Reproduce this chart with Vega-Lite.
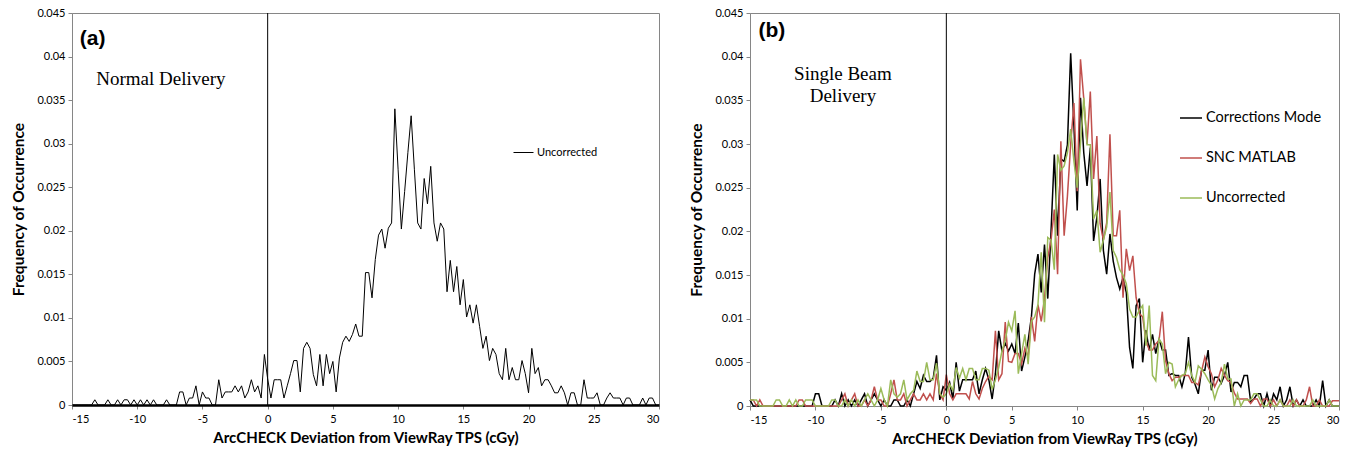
{
  "$schema": "https://vega.github.io/schema/vega-lite/v6.json",
  "background": "white",
  "padding": {"left": 11, "top": 6, "right": 5, "bottom": 5},
  "config": {
    "font": "Lato",
    "view": {"stroke": "#868686", "strokeWidth": 1},
    "axis": {"labelFont": "Lato", "labelFontSize": 11, "labelColor": "#000", "titleFont": "Lato", "titleFontSize": 15, "titleFontWeight": "bold", "titleColor": "#000", "domainColor": "#868686", "tickColor": "#868686", "tickSize": 4, "grid": false},
    "axisY": {"titleFontSize": 15.5},
    "legend": {"symbolType": "stroke", "symbolStrokeWidth": 1.2, "labelFont": "Lato", "labelColor": "#000", "title": null, "orient": "none", "padding": 0, "labelOffset": 3},
    "concat": {"spacing": 27}
  },
  "datasets": {
    "hist": [
      {"x":-15,"a":0,"c":0.0007,"s":0.0007,"u":0.0007},
      {"x":-14.75,"a":0,"c":0,"s":0.0007,"u":0.0007},
      {"x":-14.5,"a":0,"c":0,"s":0,"u":0.0007},
      {"x":-14.25,"a":0,"c":0,"s":0.0007,"u":0},
      {"x":-14,"a":0,"c":0,"s":0,"u":0},
      {"x":-13.75,"a":0,"c":0,"s":0,"u":0},
      {"x":-13.5,"a":0,"c":0,"s":0,"u":0},
      {"x":-13.25,"a":0.0006,"c":0,"s":0,"u":0},
      {"x":-13,"a":0,"c":0,"s":0,"u":0.0007},
      {"x":-12.75,"a":0,"c":0,"s":0,"u":0.0007},
      {"x":-12.5,"a":0,"c":0,"s":0,"u":0},
      {"x":-12.25,"a":0.0006,"c":0,"s":0,"u":0},
      {"x":-12,"a":0,"c":0,"s":0,"u":0.0007},
      {"x":-11.75,"a":0,"c":0,"s":0,"u":0},
      {"x":-11.5,"a":0.0006,"c":0,"s":0,"u":0.0007},
      {"x":-11.25,"a":0,"c":0,"s":0.0007,"u":0},
      {"x":-11,"a":0.0006,"c":0,"s":0.0007,"u":0},
      {"x":-10.75,"a":0.0006,"c":0,"s":0,"u":0.0007},
      {"x":-10.5,"a":0,"c":0,"s":0,"u":0.0007},
      {"x":-10.25,"a":0.0006,"c":0,"s":0,"u":0.0007},
      {"x":-10,"a":0,"c":0.0014,"s":0,"u":0},
      {"x":-9.75,"a":0.0006,"c":0.0014,"s":0,"u":0},
      {"x":-9.5,"a":0,"c":0,"s":0,"u":0},
      {"x":-9.25,"a":0.0006,"c":0,"s":0,"u":0},
      {"x":-9,"a":0,"c":0,"s":0,"u":0},
      {"x":-8.75,"a":0.0006,"c":0,"s":0,"u":0.0007},
      {"x":-8.5,"a":0,"c":0.0007,"s":0,"u":0.0007},
      {"x":-8.25,"a":0,"c":0,"s":0,"u":0},
      {"x":-8,"a":0,"c":0.0014,"s":0.0007,"u":0},
      {"x":-7.75,"a":0.0006,"c":0,"s":0.0014,"u":0.0007},
      {"x":-7.5,"a":0,"c":0.0007,"s":0,"u":0},
      {"x":-7.25,"a":0,"c":0,"s":0.0007,"u":0.0007},
      {"x":-7,"a":0,"c":0.0007,"s":0.0014,"u":0},
      {"x":-6.75,"a":0.0015,"c":0,"s":0,"u":0.0007},
      {"x":-6.5,"a":0.0015,"c":0.0007,"s":0,"u":0},
      {"x":-6.25,"a":0,"c":0.0014,"s":0.0007,"u":0.0007},
      {"x":-6,"a":0.0008,"c":0,"s":0,"u":0.0014},
      {"x":-5.75,"a":0.0008,"c":0.0007,"s":0.0007,"u":0.0007},
      {"x":-5.5,"a":0.0022,"c":0.0014,"s":0.0022,"u":0},
      {"x":-5.25,"a":0,"c":0.0007,"s":0.0007,"u":0.0007},
      {"x":-5,"a":0.0015,"c":0,"s":0.0007,"u":0.002},
      {"x":-4.75,"a":0.0008,"c":0.0007,"s":0,"u":0.0007},
      {"x":-4.5,"a":0.0008,"c":0,"s":0,"u":0},
      {"x":-4.25,"a":0,"c":0,"s":0.0014,"u":0.003},
      {"x":-4,"a":0,"c":0.0007,"s":0.003,"u":0.0014},
      {"x":-3.75,"a":0.0029,"c":0.0007,"s":0.0007,"u":0.001},
      {"x":-3.5,"a":0.0008,"c":0,"s":0.0007,"u":0.0014},
      {"x":-3.25,"a":0.0015,"c":0,"s":0.0014,"u":0.003},
      {"x":-3,"a":0.0015,"c":0.0007,"s":0,"u":0.0007},
      {"x":-2.75,"a":0.0015,"c":0,"s":0.0007,"u":0.0014},
      {"x":-2.5,"a":0.0022,"c":0.0014,"s":0.0014,"u":0.0018},
      {"x":-2.25,"a":0.0015,"c":0.0028,"s":0.0007,"u":0.004},
      {"x":-2,"a":0.0022,"c":0.002,"s":0.0007,"u":0.0028},
      {"x":-1.75,"a":0.0008,"c":0.0035,"s":0.0014,"u":0.0028},
      {"x":-1.5,"a":0.0015,"c":0.0028,"s":0.0007,"u":0.005},
      {"x":-1.25,"a":0.0029,"c":0.0028,"s":0.0014,"u":0.003},
      {"x":-1,"a":0.0015,"c":0.0032,"s":0.0007,"u":0.003},
      {"x":-0.75,"a":0.0022,"c":0.0058,"s":0.0037,"u":0.0049},
      {"x":-0.5,"a":0.0008,"c":0.0007,"s":0.0014,"u":0.0014},
      {"x":-0.25,"a":0.0058,"c":0.0022,"s":0.0007,"u":0.001},
      {"x":0,"a":0.003,"c":0.0018,"s":0.0036,"u":0.0014},
      {"x":0.25,"a":0.0008,"c":0.0027,"s":0.0014,"u":0.0025},
      {"x":0.5,"a":0.0029,"c":0.0008,"s":0.0007,"u":0.0018},
      {"x":0.75,"a":0.0029,"c":0.005,"s":0.0014,"u":0.0044},
      {"x":1,"a":0.0029,"c":0.0017,"s":0.0014,"u":0.0032},
      {"x":1.25,"a":0.0008,"c":0.003,"s":0.0014,"u":0.0043},
      {"x":1.5,"a":0.0022,"c":0.003,"s":0.0014,"u":0.003},
      {"x":1.75,"a":0.0036,"c":0.003,"s":0.0008,"u":0.0043},
      {"x":2,"a":0.0051,"c":0.003,"s":0.0028,"u":0.0043},
      {"x":2.25,"a":0.0051,"c":0.004,"s":0.0014,"u":0.003},
      {"x":2.5,"a":0.0015,"c":0.0014,"s":0.0008,"u":0.003},
      {"x":2.75,"a":0.0065,"c":0.003,"s":0.002,"u":0.0043},
      {"x":3,"a":0.0072,"c":0.0043,"s":0.0028,"u":0.0043},
      {"x":3.25,"a":0.0065,"c":0.003,"s":0.0034,"u":0.0041},
      {"x":3.5,"a":0.0035,"c":0.0008,"s":0.003,"u":0.0019},
      {"x":3.75,"a":0.0022,"c":0.0037,"s":0.0086,"u":0.003},
      {"x":4,"a":0.0058,"c":0.0086,"s":0.003,"u":0.0044},
      {"x":4.25,"a":0.0022,"c":0.0063,"s":0.0037,"u":0.0063},
      {"x":4.5,"a":0.0058,"c":0.0072,"s":0.0096,"u":0.0075},
      {"x":4.75,"a":0.0036,"c":0.0063,"s":0.0051,"u":0.0096},
      {"x":5,"a":0.005,"c":0.0071,"s":0.005,"u":0.0086},
      {"x":5.25,"a":0.0015,"c":0.006,"s":0.006,"u":0.0109},
      {"x":5.5,"a":0.0054,"c":0.0095,"s":0.006,"u":0.0037},
      {"x":5.75,"a":0.0072,"c":0.004,"s":0.0048,"u":0.006},
      {"x":6,"a":0.0079,"c":0.0056,"s":0.0066,"u":0.0082},
      {"x":6.25,"a":0.0073,"c":0.0075,"s":0.0056,"u":0.0048},
      {"x":6.5,"a":0.0081,"c":0.0102,"s":0.0102,"u":0.0097},
      {"x":6.75,"a":0.0093,"c":0.0151,"s":0.0074,"u":0.0102},
      {"x":7,"a":0.0079,"c":0.0174,"s":0.0116,"u":0.0116},
      {"x":7.25,"a":0.0079,"c":0.013,"s":0.0097,"u":0.0176},
      {"x":7.5,"a":0.0152,"c":0.0185,"s":0.0123,"u":0.0096},
      {"x":7.75,"a":0.0152,"c":0.0123,"s":0.017,"u":0.0193},
      {"x":8,"a":0.0123,"c":0.02,"s":0.019,"u":0.019},
      {"x":8.25,"a":0.0167,"c":0.0288,"s":0.0225,"u":0.0156},
      {"x":8.5,"a":0.0195,"c":0.0195,"s":0.0151,"u":0.0288},
      {"x":8.75,"a":0.0202,"c":0.0283,"s":0.0303,"u":0.027},
      {"x":9,"a":0.018,"c":0.028,"s":0.0195,"u":0.0275},
      {"x":9.25,"a":0.0203,"c":0.0299,"s":0.024,"u":0.029},
      {"x":9.5,"a":0.0209,"c":0.0404,"s":0.03,"u":0.0317},
      {"x":9.75,"a":0.034,"c":0.032,"s":0.0347,"u":0.028},
      {"x":10,"a":0.027,"c":0.0224,"s":0.0246,"u":0.025},
      {"x":10.25,"a":0.0202,"c":0.0353,"s":0.0397,"u":0.03},
      {"x":10.5,"a":0.0245,"c":0.029,"s":0.0352,"u":0.0353},
      {"x":10.75,"a":0.029,"c":0.0252,"s":0.03,"u":0.0299},
      {"x":11,"a":0.0332,"c":0.0296,"s":0.036,"u":0.0299},
      {"x":11.25,"a":0.027,"c":0.0189,"s":0.026,"u":0.0214},
      {"x":11.5,"a":0.0209,"c":0.0216,"s":0.0309,"u":0.0224},
      {"x":11.75,"a":0.0202,"c":0.026,"s":0.0209,"u":0.0176},
      {"x":12,"a":0.026,"c":0.0178,"s":0.019,"u":0.019},
      {"x":12.25,"a":0.0231,"c":0.0151,"s":0.021,"u":0.0205},
      {"x":12.5,"a":0.0274,"c":0.0197,"s":0.0311,"u":0.0245},
      {"x":12.75,"a":0.0209,"c":0.0166,"s":0.0195,"u":0.0178},
      {"x":13,"a":0.0188,"c":0.0147,"s":0.0195,"u":0.017},
      {"x":13.25,"a":0.0209,"c":0.0134,"s":0.0224,"u":0.0156},
      {"x":13.5,"a":0.0202,"c":0.0147,"s":0.0124,"u":0.015},
      {"x":13.75,"a":0.013,"c":0.013,"s":0.018,"u":0.014},
      {"x":14,"a":0.0166,"c":0.0067,"s":0.0155,"u":0.0111},
      {"x":14.25,"a":0.013,"c":0.0043,"s":0.0172,"u":0.0102},
      {"x":14.5,"a":0.0159,"c":0.0115,"s":0.0124,"u":0.0102},
      {"x":14.75,"a":0.0115,"c":0.0123,"s":0.0106,"u":0.011},
      {"x":15,"a":0.0144,"c":0.005,"s":0.0102,"u":0.0115},
      {"x":15.25,"a":0.0101,"c":0.0087,"s":0.0075,"u":0.0069},
      {"x":15.5,"a":0.0115,"c":0.0064,"s":0.0064,"u":0.0115},
      {"x":15.75,"a":0.0094,"c":0.0082,"s":0.0064,"u":0.0035},
      {"x":16,"a":0.0115,"c":0.006,"s":0.0071,"u":0.0029},
      {"x":16.25,"a":0.009,"c":0.0077,"s":0.0075,"u":0.0077},
      {"x":16.5,"a":0.0065,"c":0.0064,"s":0.0108,"u":0.0071},
      {"x":16.75,"a":0.0079,"c":0.0064,"s":0.0052,"u":0.0037},
      {"x":17,"a":0.0051,"c":0.0035,"s":0.0037,"u":0.005},
      {"x":17.25,"a":0.0065,"c":0.0037,"s":0.0029,"u":0.0048},
      {"x":17.5,"a":0.0058,"c":0.0035,"s":0.0033,"u":0.0022},
      {"x":17.75,"a":0.0036,"c":0.0035,"s":0.0033,"u":0.003},
      {"x":18,"a":0.0029,"c":0.0022,"s":0.0035,"u":0.0035},
      {"x":18.25,"a":0.0065,"c":0.0037,"s":0.0035,"u":0.0037},
      {"x":18.5,"a":0.0029,"c":0.0079,"s":0.0035,"u":0.005},
      {"x":18.75,"a":0.0043,"c":0.0033,"s":0.0027,"u":0.0035},
      {"x":19,"a":0.0029,"c":0.0025,"s":0.0027,"u":0.0027},
      {"x":19.25,"a":0.0029,"c":0.0014,"s":0.0024,"u":0.0046},
      {"x":19.5,"a":0.0051,"c":0.0041,"s":0.004,"u":0.0042},
      {"x":19.75,"a":0.0036,"c":0.0041,"s":0.0056,"u":0.0037},
      {"x":20,"a":0.0014,"c":0.0064,"s":0.0045,"u":0.003},
      {"x":20.25,"a":0.0065,"c":0.0018,"s":0.0037,"u":0.0024},
      {"x":20.5,"a":0.0036,"c":0.0033,"s":0.0022,"u":0.0008},
      {"x":20.75,"a":0.0043,"c":0.0033,"s":0.003,"u":0.002},
      {"x":21,"a":0.0022,"c":0.0026,"s":0.0043,"u":0.0027},
      {"x":21.25,"a":0.0029,"c":0.0035,"s":0.0035,"u":0.0048},
      {"x":21.5,"a":0.0029,"c":0.005,"s":0.0029,"u":0.0031},
      {"x":21.75,"a":0.0022,"c":0.0016,"s":0.0027,"u":0.0031},
      {"x":22,"a":0.0014,"c":0.0027,"s":0.0015,"u":0},
      {"x":22.25,"a":0.0014,"c":0.0027,"s":0.0008,"u":0.0014},
      {"x":22.5,"a":0.0022,"c":0.0022,"s":0.0008,"u":0},
      {"x":22.75,"a":0.0014,"c":0.0035,"s":0.0008,"u":0.0007},
      {"x":23,"a":0,"c":0.0035,"s":0.0008,"u":0.0007},
      {"x":23.25,"a":0.0014,"c":0.0005,"s":0.0003,"u":0.0007},
      {"x":23.5,"a":0.0014,"c":0.0008,"s":0.0008,"u":0.0014},
      {"x":23.75,"a":0,"c":0.0014,"s":0.0008,"u":0.0014},
      {"x":24,"a":0,"c":0.0014,"s":0,"u":0.0007},
      {"x":24.25,"a":0.0029,"c":0,"s":0.0008,"u":0},
      {"x":24.5,"a":0.0008,"c":0.0014,"s":0.0008,"u":0},
      {"x":24.75,"a":0.0008,"c":0,"s":0,"u":0.0007},
      {"x":25,"a":0.0008,"c":0.0014,"s":0.0007,"u":0},
      {"x":25.25,"a":0.0014,"c":0.0007,"s":0,"u":0},
      {"x":25.5,"a":0,"c":0.0022,"s":0.0007,"u":0.0007},
      {"x":25.75,"a":0,"c":0,"s":0,"u":0},
      {"x":26,"a":0.0008,"c":0.0007,"s":0,"u":0},
      {"x":26.25,"a":0.0014,"c":0.0022,"s":0.0007,"u":0},
      {"x":26.5,"a":0.0008,"c":0,"s":0,"u":0.0007},
      {"x":26.75,"a":0.0008,"c":0.0007,"s":0.0007,"u":0},
      {"x":27,"a":0.0008,"c":0,"s":0,"u":0},
      {"x":27.25,"a":0,"c":0.0007,"s":0,"u":0},
      {"x":27.5,"a":0.0008,"c":0,"s":0.0007,"u":0},
      {"x":27.75,"a":0.0008,"c":0,"s":0.0022,"u":0},
      {"x":28,"a":0,"c":0,"s":0,"u":0.0007},
      {"x":28.25,"a":0,"c":0.0007,"s":0,"u":0},
      {"x":28.5,"a":0,"c":0,"s":0.0007,"u":0},
      {"x":28.75,"a":0.0008,"c":0.0029,"s":0,"u":0},
      {"x":29,"a":0,"c":0,"s":0,"u":0},
      {"x":29.25,"a":0.0008,"c":0.0007,"s":0,"u":0.0007},
      {"x":29.5,"a":0.0008,"c":0,"s":0.0006,"u":0},
      {"x":29.75,"a":0,"c":0,"s":0.0006,"u":0},
      {"x":30,"a":0,"c":0,"s":0.0006,"u":0}
    ]
  },
  "hconcat": [
    {
      "width": 587,
      "height": 392,
      "layer": [
        {
          "data": {"name": "hist"},
          "mark": {"type": "line", "color": "black", "strokeWidth": 1},
          "encoding": {
            "x": {"field": "x", "type": "quantitative", "title": "ArcCHECK Deviation from ViewRay TPS (cGy)", "scale": {"domain": [-15, 30], "nice": false},
                  "axis": {"values": [-15,-10,-5,0,5,10,15,20,25,30], "labelExpr": "'' + datum.value", "domainColor": "#000", "domainWidth": 2.5, "labelPadding": 4, "titlePadding": 6}},
            "y": {"field": "a", "type": "quantitative", "title": "Frequency of Occurrence", "scale": {"domain": [0, 0.045], "nice": false},
                  "axis": {"values": [0,0.005,0.01,0.015,0.02,0.025,0.03,0.035,0.04,0.045], "format": ".3~f", "labelPadding": 3, "titlePadding": 10}},
            "color": {"datum": "Uncorrected", "type": "nominal", "scale": {"range": ["#000000"]},
                      "legend": {"legendX": 441, "legendY": 129, "symbolSize": 400, "labelFontSize": 11, "symbolStrokeWidth": 1}}
          }
        },
        {
          "data": {"values": [{"px": 0, "py": 0}, {"px": 0, "py": 0.045}]},
          "mark": {"type": "line", "color": "black", "strokeWidth": 1},
          "encoding": {"x": {"field": "px", "type": "quantitative", "title": "ArcCHECK Deviation from ViewRay TPS (cGy)"}, "y": {"field": "py", "type": "quantitative", "title": "Frequency of Occurrence"}}
        },
        {
          "data": {"values": [{"px": -14.4, "py": 0.042, "t": "(a)"}]},
          "mark": {"type": "text", "align": "left", "baseline": "middle", "font": "Liberation Sans", "fontWeight": "bold", "fontSize": 21, "color": "black"},
          "encoding": {"x": {"field": "px", "type": "quantitative", "title": "ArcCHECK Deviation from ViewRay TPS (cGy)"}, "y": {"field": "py", "type": "quantitative", "title": "Frequency of Occurrence"}, "text": {"field": "t"}}
        },
        {
          "data": {"values": [{"px": -13.14, "py": 0.0374, "t": "Normal Delivery"}]},
          "mark": {"type": "text", "align": "left", "baseline": "middle", "font": "Liberation Serif", "fontSize": 19, "color": "black"},
          "encoding": {"x": {"field": "px", "type": "quantitative", "title": "ArcCHECK Deviation from ViewRay TPS (cGy)"}, "y": {"field": "py", "type": "quantitative", "title": "Frequency of Occurrence"}, "text": {"field": "t"}}
        }
      ]
    },
    {
      "width": 589,
      "height": 393,
      "layer": [
        {
          "data": {"name": "hist"},
          "transform": [{"fold": ["c", "s", "u"], "as": ["series", "f"]}],
          "mark": {"type": "line", "strokeWidth": 1.5},
          "encoding": {
            "x": {"field": "x", "type": "quantitative", "title": "ArcCHECK Deviation from ViewRay TPS (cGy)", "scale": {"domain": [-15, 30], "nice": false},
                  "axis": {"values": [-15,-10,-5,0,5,10,15,20,25,30], "labelExpr": "'' + datum.value", "labelPadding": 4, "titlePadding": 6}},
            "y": {"field": "f", "type": "quantitative", "title": "Frequency of Occurrence", "scale": {"domain": [0, 0.045], "nice": false},
                  "axis": {"values": [0,0.005,0.01,0.015,0.02,0.025,0.03,0.035,0.04,0.045], "format": ".3~f", "labelPadding": 3, "titlePadding": 10}},
            "color": {"field": "series", "type": "nominal", "scale": {"domain": ["c", "s", "u"], "range": ["#000000", "#c0504d", "#9bbb59"]},
                      "legend": {"legendX": 429, "legendY": 93, "symbolSize": 484, "labelFontSize": 14.5, "rowPadding": 21, "symbolStrokeWidth": 1.5,
                                 "labelExpr": "datum.label == 'c' ? 'Corrections Mode' : datum.label == 's' ? 'SNC MATLAB' : 'Uncorrected'"}}
          }
        },
        {
          "data": {"values": [{"px": 0, "py": 0}, {"px": 0, "py": 0.045}]},
          "mark": {"type": "line", "color": "black", "strokeWidth": 1},
          "encoding": {"x": {"field": "px", "type": "quantitative", "title": "ArcCHECK Deviation from ViewRay TPS (cGy)"}, "y": {"field": "py", "type": "quantitative", "title": "Frequency of Occurrence"}}
        },
        {
          "data": {"values": [{"px": -14.35, "py": 0.0429, "t": "(b)"}]},
          "mark": {"type": "text", "align": "left", "baseline": "middle", "font": "Liberation Sans", "fontWeight": "bold", "fontSize": 21, "color": "black"},
          "encoding": {"x": {"field": "px", "type": "quantitative", "title": "ArcCHECK Deviation from ViewRay TPS (cGy)"}, "y": {"field": "py", "type": "quantitative", "title": "Frequency of Occurrence"}, "text": {"field": "t"}}
        },
        {
          "data": {"values": [{"px": -7.9, "py": 0.038, "t": "Single Beam\nDelivery"}]},
          "mark": {"type": "text", "align": "center", "baseline": "middle", "font": "Liberation Serif", "fontSize": 19, "lineHeight": 21.5, "lineBreak": "\n", "color": "black"},
          "encoding": {"x": {"field": "px", "type": "quantitative", "title": "ArcCHECK Deviation from ViewRay TPS (cGy)"}, "y": {"field": "py", "type": "quantitative", "title": "Frequency of Occurrence"}, "text": {"field": "t"}}
        }
      ]
    }
  ],
  "resolve": {"scale": {"color": "independent"}, "legend": {"color": "independent"}}
}
